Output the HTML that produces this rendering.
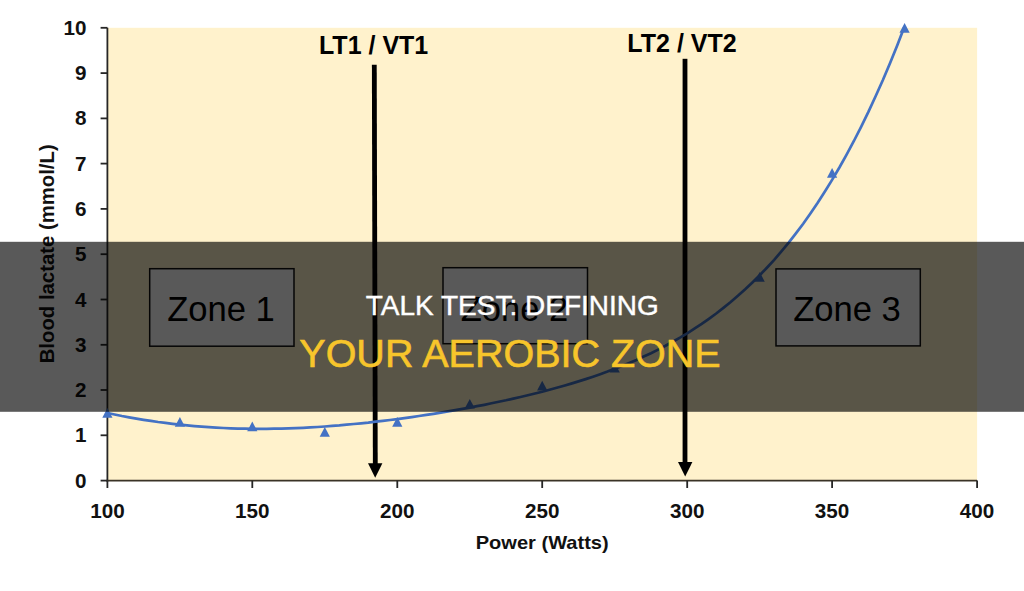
<!DOCTYPE html>
<html><head><meta charset="utf-8"><style>
html,body{margin:0;padding:0;background:#fff;width:1024px;height:591px;overflow:hidden}
svg{display:block;font-family:"Liberation Sans",sans-serif}
</style></head><body>
<svg width="1024" height="591" viewBox="0 0 1024 591">
<rect x="0" y="0" width="1024" height="591" fill="#ffffff"/>
<rect x="107.4" y="27.8" width="869.7" height="452.8" fill="#FFF2CC"/>
<g stroke="#262626" stroke-width="1.8" fill="none">
<line x1="107.4" y1="27.8" x2="107.4" y2="481.5"/>
<line x1="106.5" y1="480.7" x2="977.1" y2="480.7" stroke="#3a3326"/>
<line x1="100.6" y1="480.6" x2="107.4" y2="480.6"/><line x1="100.6" y1="435.3" x2="107.4" y2="435.3"/><line x1="100.6" y1="390.0" x2="107.4" y2="390.0"/><line x1="100.6" y1="344.8" x2="107.4" y2="344.8"/><line x1="100.6" y1="299.5" x2="107.4" y2="299.5"/><line x1="100.6" y1="254.2" x2="107.4" y2="254.2"/><line x1="100.6" y1="208.9" x2="107.4" y2="208.9"/><line x1="100.6" y1="163.6" x2="107.4" y2="163.6"/><line x1="100.6" y1="118.4" x2="107.4" y2="118.4"/><line x1="100.6" y1="73.1" x2="107.4" y2="73.1"/><line x1="100.6" y1="27.8" x2="107.4" y2="27.8"/><line x1="107.4" y1="480.6" x2="107.4" y2="488"/><line x1="252.3" y1="480.6" x2="252.3" y2="488"/><line x1="397.3" y1="480.6" x2="397.3" y2="488"/><line x1="542.2" y1="480.6" x2="542.2" y2="488"/><line x1="687.2" y1="480.6" x2="687.2" y2="488"/><line x1="832.1" y1="480.6" x2="832.1" y2="488"/><line x1="977.1" y1="480.6" x2="977.1" y2="488"/>
</g>
<g font-weight="700" font-size="19.5" fill="#111"><text transform="translate(86.5,487.6) scale(1.06,1)" text-anchor="end">0</text><text transform="translate(86.5,442.3) scale(1.06,1)" text-anchor="end">1</text><text transform="translate(86.5,397.0) scale(1.06,1)" text-anchor="end">2</text><text transform="translate(86.5,351.8) scale(1.06,1)" text-anchor="end">3</text><text transform="translate(86.5,306.5) scale(1.06,1)" text-anchor="end">4</text><text transform="translate(86.5,261.2) scale(1.06,1)" text-anchor="end">5</text><text transform="translate(86.5,215.9) scale(1.06,1)" text-anchor="end">6</text><text transform="translate(86.5,170.6) scale(1.06,1)" text-anchor="end">7</text><text transform="translate(86.5,125.4) scale(1.06,1)" text-anchor="end">8</text><text transform="translate(86.5,80.1) scale(1.06,1)" text-anchor="end">9</text><text transform="translate(86.5,34.8) scale(1.06,1)" text-anchor="end">10</text><text transform="translate(107.4,517.7) scale(1.06,1)" text-anchor="middle">100</text><text transform="translate(252.3,517.7) scale(1.06,1)" text-anchor="middle">150</text><text transform="translate(397.3,517.7) scale(1.06,1)" text-anchor="middle">200</text><text transform="translate(542.2,517.7) scale(1.06,1)" text-anchor="middle">250</text><text transform="translate(687.2,517.7) scale(1.06,1)" text-anchor="middle">300</text><text transform="translate(832.1,517.7) scale(1.06,1)" text-anchor="middle">350</text><text transform="translate(977.1,517.7) scale(1.06,1)" text-anchor="middle">400</text></g>
<text x="542.2" y="549.3" text-anchor="middle" font-weight="700" font-size="19" fill="#111" textLength="133" lengthAdjust="spacingAndGlyphs">Power (Watts)</text>
<text transform="translate(53.5,253.8) rotate(-90)" x="0" y="0" text-anchor="middle" font-weight="700" font-size="19.5" fill="#111" textLength="219" lengthAdjust="spacingAndGlyphs">Blood lactate (mmol/L)</text>
<g fill="#fff" stroke="#111" stroke-width="1.5">
<rect x="149.7" y="268.7" width="144.3" height="77.5"/>
<rect x="443" y="267.7" width="144.5" height="76"/>
<rect x="776" y="268.9" width="144.3" height="77"/>
</g>
<g font-size="35" fill="#000" text-anchor="middle">
<text transform="translate(221,321.3) scale(0.989,1)">Zone 1</text>
<text transform="translate(514.5,320.7) scale(0.989,1)">Zone 2</text>
<text transform="translate(847,321.3) scale(0.989,1)">Zone 3</text>
</g>
<g font-weight="700" font-size="25" fill="#000" text-anchor="middle">
<text x="373.6" y="54.4">LT1 / VT1</text>
<text x="682" y="51.5">LT2 / VT2</text>
</g>
<g fill="#000">
<path d="M371.9,64.7 L376.7,64.7 L377.7,464.7 L372.9,464.7 Z"/>
<path d="M368,463.3 L382.4,463.3 L375.2,477.8 Z"/>
<rect x="682.6" y="58.8" width="4.8" height="405"/>
<path d="M678,462 L692.4,462 L685.2,476.5 Z"/>
</g>
<path d="M107.4,413.0 L114.6,414.5 L121.9,416.0 L129.1,417.3 L136.4,418.6 L143.6,419.8 L150.9,420.9 L158.1,422.0 L165.4,422.9 L172.6,423.8 L179.9,424.7 L187.1,425.4 L194.4,426.1 L201.6,426.7 L208.9,427.2 L216.1,427.6 L223.4,428.0 L230.6,428.3 L237.9,428.6 L245.1,428.7 L252.3,428.8 L259.6,428.9 L266.8,428.8 L274.1,428.7 L281.3,428.6 L288.6,428.4 L295.8,428.1 L303.1,427.8 L310.3,427.4 L317.6,427.0 L324.8,426.5 L332.1,425.9 L339.3,425.4 L346.6,424.7 L353.8,424.0 L361.1,423.3 L368.3,422.6 L375.6,421.7 L382.8,420.9 L390.1,420.0 L397.3,419.1 L404.5,418.1 L411.8,417.1 L419.0,416.0 L426.3,414.9 L433.5,413.8 L440.8,412.6 L448.0,411.4 L455.3,410.2 L462.5,408.9 L469.8,407.6 L477.0,406.2 L484.3,404.8 L491.5,403.3 L498.8,401.8 L506.0,400.3 L513.3,398.6 L520.5,397.0 L527.8,395.3 L535.0,393.5 L542.2,391.7 L549.5,389.8 L556.7,387.8 L564.0,385.7 L571.2,383.6 L578.5,381.4 L585.7,379.1 L593.0,376.7 L600.2,374.2 L607.5,371.6 L614.7,368.8 L622.0,366.0 L629.2,363.0 L636.5,359.9 L643.7,356.6 L651.0,353.2 L658.2,349.6 L665.5,345.8 L672.7,341.8 L680.0,337.7 L687.2,333.3 L694.4,328.7 L701.7,323.9 L708.9,318.8 L716.2,313.5 L723.4,307.9 L730.7,302.0 L737.9,295.8 L745.2,289.3 L752.4,282.5 L759.7,275.3 L766.9,267.7 L774.2,259.8 L781.4,251.4 L788.7,242.6 L795.9,233.4 L803.2,223.7 L810.4,213.5 L817.7,202.8 L824.9,191.6 L832.1,179.9 L839.4,167.5 L846.6,154.6 L853.9,141.0 L861.1,126.8 L868.4,111.9 L875.6,96.3 L882.9,80.0 L890.1,62.9 L897.4,45.0 L904.6,26.3" fill="none" stroke="#4472C4" stroke-width="2.7"/>
<g fill="#4472C4"><path d="M107.4,408.0 L112.5,417.7 L102.3,417.7 Z"/><path d="M179.9,417.0 L185.0,426.7 L174.8,426.7 Z"/><path d="M252.3,421.6 L257.4,431.3 L247.2,431.3 Z"/><path d="M324.8,427.0 L329.9,436.7 L319.7,436.7 Z"/><path d="M397.3,417.0 L402.4,426.7 L392.2,426.7 Z"/><path d="M469.8,398.9 L474.9,408.6 L464.7,408.6 Z"/><path d="M542.2,380.8 L547.4,390.5 L537.1,390.5 Z"/><path d="M614.7,362.7 L619.8,372.4 L609.6,372.4 Z"/><path d="M759.7,272.1 L764.8,281.8 L754.6,281.8 Z"/><path d="M832.1,168.0 L837.2,177.7 L827.0,177.7 Z"/><path d="M904.6,23.1 L909.7,32.8 L899.5,32.8 Z"/></g>
<rect x="0" y="241.8" width="1024" height="170" fill="rgba(0,0,0,0.65)"/>
<text x="512.3" y="314.7" text-anchor="middle" font-size="28" fill="#fff" stroke="#fff" stroke-width="0.4">TALK TEST: DEFINING</text>
<text x="510" y="367" text-anchor="middle" font-size="39.5" fill="#F7C52B" stroke="#F7C52B" stroke-width="0.6">YOUR AEROBIC ZONE</text>
</svg>
</body></html>
